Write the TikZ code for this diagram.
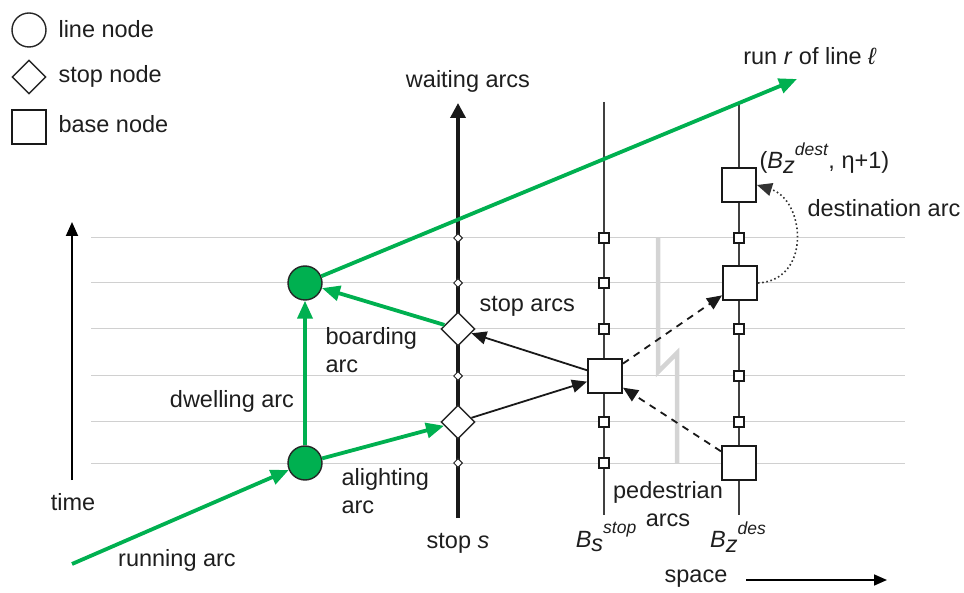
\documentclass[tikz,border=0pt]{standalone}
\usepackage{fontspec}
\setmainfont{Liberation Sans}
\usetikzlibrary{arrows.meta,shapes.geometric}
\definecolor{rungreen}{RGB}{0,176,80}
\definecolor{gridgray}{RGB}{208,208,208}
\definecolor{breakgray}{RGB}{212,212,212}
\definecolor{txt}{RGB}{30,30,30}
\newcommand{\Bsym}[2]{\textit{B}\raisebox{-0.35ex}{\textit{#1}}\raisebox{1.1ex}{\fontsize{17.5}{20}\selectfont\textit{#2}}}
\begin{document}
\begin{tikzpicture}[x=1pt,y=-1pt,
  every node/.style={font=\fontsize{23.5}{28}\selectfont, text=txt},
  linenode/.style={circle, draw=black!85, line width=1.4, fill=rungreen, minimum size=34, inner sep=0},
  stopnode/.style={diamond, aspect=1, draw=black!85, line width=1.4, fill=white, minimum width=34, minimum height=34, inner sep=0},
  tinystop/.style={diamond, aspect=1, draw=black!85, line width=1, fill=white, minimum width=9, minimum height=9, inner sep=0},
  basenode/.style={rectangle, draw=black!90, line width=2, fill=white, minimum size=34, inner sep=0},
  tinybase/.style={rectangle, draw=black!90, line width=1.8, fill=white, minimum size=10, inner sep=0},
  legendtext/.style={anchor=west},
  gridline/.style={draw=gridgray, line width=1},
  greenarc/.style={draw=rungreen, line width=3.8, -{Triangle[length=18, width=15]}},
  stoparc/.style={draw=black!90, line width=1.8, -{Triangle[length=15, width=13]}},
  pedarc/.style={draw=black!90, line width=1.8, dash pattern=on 7 off 6, -{Triangle[length=15, width=13]}},
  destarc/.style={draw=black!80, line width=1.6, dash pattern=on 1.6 off 2.6, -{Triangle[length=15, width=13]}},
  thinpost/.style={draw=black!75, line width=1.3},
]
\useasboundingbox (0,0) rectangle (964,593);

% time grid
\foreach \gy in {238,283,329,376,422,463}
  \draw[gridline] (91,\gy) -- (905,\gy);

% legend
\node[linenode, fill=white] (lgL) at (29,30) {};
\node[stopnode] (lgS) at (29,77) {};
\node[basenode] (lgB) at (29,127) {};
\node[legendtext] (lgLt) at (55,29) {line node};
\node[legendtext] (lgSt) at (55,76) {stop node};
\node[legendtext] (lgBt) at (55,124) {base node};

% time and space axes
\coordinate (t0) at (72,480);
\coordinate (t1) at (72,222);
\draw[line width=1.8, -{Triangle[length=14, width=12]}] (t0) -- (t1);
\node (timelbl) at (73,502) {time};
\node (spacelbl) at (696,579) {space};
\coordinate (s0) at (746,580);
\coordinate (s1) at (887,580);
\draw[line width=1.6, -{Triangle[length=13, width=11]}] (s0) -- (s1);

% pedestrian break marker
\draw[breakgray, line width=4.5, line join=miter] (677,463) -- (677,353) -- (658,372) -- (658,238);

% base node posts
\coordinate (ps0) at (604,102);
\coordinate (ps1) at (604,515);
\coordinate (pd0) at (739,104);
\coordinate (pd1) at (739,515);
\draw[thinpost] (ps0) -- (ps1);
\draw[thinpost] (pd0) -- (pd1);
\foreach \gy [count=\i] in {238,283,329,422,463}
  \node[tinybase] (bs\i) at (604,\gy) {};
\foreach \gy [count=\i] in {238,329,376,422}
  \node[tinybase] (bd\i) at (739,\gy) {};

% waiting arcs at stop s
\coordinate (w0) at (458,518);
\coordinate (w1) at (458,103);
\draw[black!90, line width=3.5, -{Triangle[length=15, width=15]}] (w0) -- (w1);
\foreach \gy [count=\i] in {238,283,376,463}
  \node[tinystop] (ws\i) at (458,\gy) {};

% main nodes
\node[linenode] (L1) at (305,283) {};
\node[linenode] (L2) at (305,463) {};
\node[stopnode] (S1) at (458,329) {};
\node[stopnode] (S2) at (458,422) {};
\node[basenode] (Bs) at (605,376) {};
\node[basenode] (Bd1) at (739,185) {};
\node[basenode] (Bd2) at (740,283) {};
\node[basenode] (Bd3) at (739,463) {};

% run of the line
\coordinate (runstart) at (72,564);
\coordinate (runend) at (797,79);
\draw[greenarc] (runstart) -- (L2);
\draw[greenarc] (L2) -- (S2);
\draw[greenarc] (L2) -- (L1);
\draw[greenarc] (S1) -- (L1);
\draw[greenarc] (L1) -- (runend);

% stop arcs
\draw[stoparc] (Bs) -- (S1);
\draw[stoparc] (S2) -- (Bs);

% pedestrian arcs
\draw[pedarc] (Bs) -- (Bd2);
\draw[pedarc] (Bd3) -- (Bs);

% destination arc
\draw[destarc] (Bd2.east) .. controls (812,280) and (805,200) .. (Bd1.east);

% labels
\node (runlbl) at (810,56) {run \textit{r} of line \textit{ℓ}};
\node (waitlbl) at (468,81) {waiting arcs};
\node (stoplbl) at (458,543) {stop \textit{s}};
\node[anchor=west] (stoparclbl) at (476,306) {stop arcs};
\node[anchor=west, align=left] (boardlbl) at (322,350) {boarding\\arc};
\node (dwelllbl) at (232,401) {dwelling arc};
\node[anchor=west, align=left] (alightlbl) at (338,491) {alighting\\arc};
\node (runninglbl) at (177,560) {running arc};
\node[align=center] (pedlbl) at (668,504) {pedestrian\\arcs};
\node[anchor=west] (destlbl) at (804,208) {destination arc};
\node[anchor=west] (destnodelbl) at (756,158) {(\Bsym{z}{dest}, η+1)};
\node (bstoplbl) at (606,537) {\Bsym{s}{stop}};
\node (bdeslbl) at (738,537) {\Bsym{z}{des}};
\end{tikzpicture}
\end{document}
